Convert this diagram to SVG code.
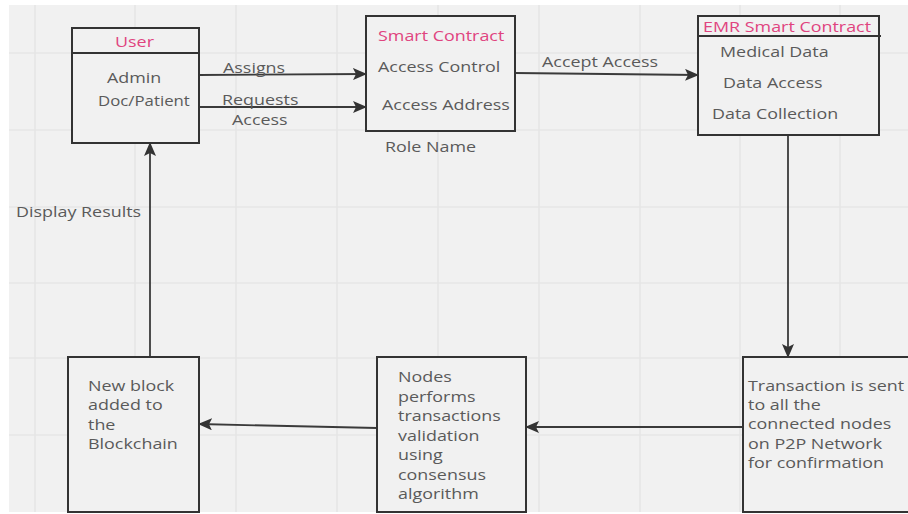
<svg xmlns="http://www.w3.org/2000/svg" width="908" height="514" viewBox="0 0 908 514">
<defs>
<style>
.bg{fill:#f1f1f1}
.grid line{stroke:#e6e6e6;stroke-width:1.6}
.box{fill:#f1f1f1;stroke:#333;stroke-width:2}
.sep{stroke:#333;stroke-width:2}
.t{font-family:"Open Sans","Noto Sans",sans-serif;font-size:14px;fill:#5a5a5a}
.p{fill:#e0447f}
.conn line{stroke:#3a3a3a;stroke-width:1.8;marker-end:url(#ah)}
</style>
<marker id="ah" markerUnits="userSpaceOnUse" markerWidth="14" markerHeight="12" viewBox="0 0 14 12" refX="13" refY="6" orient="auto">
<path d="M0,0 L14,6 L0,12 L3,6 Z" fill="#333"/>
</marker>
</defs>
<rect x="0" y="0" width="908" height="514" fill="#ffffff"/>
<rect class="bg" x="9" y="5" width="899" height="507"/>
<g class="grid">
<line x1="35" y1="5" x2="35" y2="512"/>
<line x1="135" y1="5" x2="135" y2="512"/>
<line x1="236" y1="5" x2="236" y2="512"/>
<line x1="337" y1="5" x2="337" y2="512"/>
<line x1="438" y1="5" x2="438" y2="512"/>
<line x1="539" y1="5" x2="539" y2="512"/>
<line x1="640" y1="5" x2="640" y2="512"/>
<line x1="740" y1="5" x2="740" y2="512"/>
<line x1="840" y1="5" x2="840" y2="512"/>
<line x1="9" y1="53" x2="908" y2="53"/>
<line x1="9" y1="130" x2="908" y2="130"/>
<line x1="9" y1="207" x2="908" y2="207"/>
<line x1="9" y1="283" x2="908" y2="283"/>
<line x1="9" y1="358" x2="908" y2="358"/>
<line x1="9" y1="435" x2="908" y2="435"/>
</g>
<g class="conn">
<line x1="199" y1="75" x2="366" y2="74"/>
<line x1="199" y1="107" x2="366" y2="107"/>
<line x1="515" y1="73" x2="698" y2="75"/>
<line x1="788" y1="135" x2="788" y2="357"/>
<line x1="743" y1="427" x2="526" y2="427"/>
<line x1="377" y1="428" x2="199" y2="424"/>
<line x1="150" y1="357" x2="150" y2="143"/>
<text class="t" transform="translate(223,73) scale(1.28,1)">Assigns</text>
<text class="t" transform="translate(222,105) scale(1.28,1)">Requests</text>
<text class="t" transform="translate(232,125) scale(1.28,1)">Access</text>
<text class="t" transform="translate(542,67) scale(1.28,1)">Accept Access</text>
<text class="t" transform="translate(16,217) scale(1.28,1)">Display Results</text>
</g>
<g id="user">
<rect class="box" x="72" y="28" width="127" height="115"/>
<line class="sep" x1="72" y1="53" x2="199" y2="53"/>
<text class="t p" transform="translate(115,47) scale(1.28,1)">User</text>
<text class="t" transform="translate(107,83) scale(1.28,1)">Admin</text>
<text class="t" transform="translate(98,106) scale(1.2,1)">Doc/Patient</text>
</g>
<g id="smart-contract">
<rect class="box" x="366" y="16" width="149" height="115"/>
<text class="t p" transform="translate(378,41) scale(1.28,1)">Smart Contract</text>
<text class="t" transform="translate(378,72) scale(1.28,1)">Access Control</text>
<text class="t" transform="translate(382,110) scale(1.28,1)">Access Address</text>
<text class="t" transform="translate(385,152) scale(1.28,1)">Role Name</text>
</g>
<g id="emr-smart-contract">
<rect class="box" x="698" y="16" width="181" height="119"/>
<line class="sep" x1="698" y1="36" x2="881" y2="36"/>
<text class="t p" transform="translate(703,32) scale(1.28,1)">EMR Smart Contract</text>
<text class="t" transform="translate(720,57) scale(1.28,1)">Medical Data</text>
<text class="t" transform="translate(723,88) scale(1.28,1)">Data Access</text>
<text class="t" transform="translate(712,119) scale(1.28,1)">Data Collection</text>
</g>
<g id="transaction">
<rect class="box" x="743" y="357" width="175" height="155"/>
<text class="t" transform="translate(748,391) scale(1.28,1)">Transaction is sent</text>
<text class="t" transform="translate(748,410) scale(1.28,1)">to all the</text>
<text class="t" transform="translate(748,429) scale(1.28,1)">connected nodes</text>
<text class="t" transform="translate(748,449) scale(1.28,1)">on P2P Network</text>
<text class="t" transform="translate(748,468) scale(1.28,1)">for confirmation</text>
</g>
<g id="validation">
<rect class="box" x="377" y="357" width="149" height="155"/>
<text class="t" transform="translate(398,382) scale(1.28,1)">Nodes</text>
<text class="t" transform="translate(398,401.5) scale(1.28,1)">performs</text>
<text class="t" transform="translate(398,421) scale(1.28,1)">transactions</text>
<text class="t" transform="translate(398,440.5) scale(1.28,1)">validation</text>
<text class="t" transform="translate(398,460) scale(1.28,1)">using</text>
<text class="t" transform="translate(398,479.5) scale(1.28,1)">consensus</text>
<text class="t" transform="translate(398,499) scale(1.28,1)">algorithm</text>
</g>
<g id="new-block">
<rect class="box" x="68" y="357" width="131" height="155"/>
<text class="t" transform="translate(88,391) scale(1.28,1)">New block</text>
<text class="t" transform="translate(88,410) scale(1.28,1)">added to</text>
<text class="t" transform="translate(88,429.5) scale(1.28,1)">the</text>
<text class="t" transform="translate(88,449) scale(1.28,1)">Blockchain</text>
</g>
</svg>
